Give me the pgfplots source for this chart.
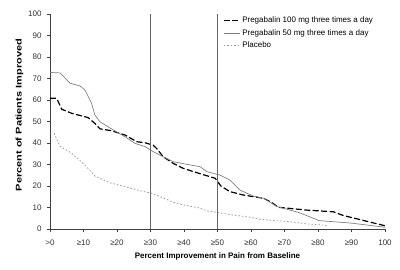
\documentclass[border=0pt]{standalone}
\usepackage{graphicx}
\usepackage{pgfplots}
\pgfplotsset{compat=1.18}
\usepackage{fontspec}
\setmainfont{Liberation Sans}
\begin{document}
\begin{tikzpicture}
\begin{axis}[
  at={(0pt,0pt)}, anchor=origin,
  scale only axis, width=335pt, height=215pt,
  xmin=0, xmax=100, ymin=0, ymax=100,
  axis x line*=bottom, axis y line*=left,
  axis line style={line width=0.8pt, black!75},
  tick align=outside, major tick length=3pt,
  tick style={line width=0.6pt, black!75},
  xtick={0,10,...,100}, ytick={0,10,...,100},
  xticklabels={>0,≥10,≥20,≥30,≥40,≥50,≥60,≥70,≥80,≥90,100},
  /pgf/number format/assume math mode=true,
  ticklabel style={font=\fontsize{8}{9}\selectfont, black!80},
  xticklabel style={yshift=-4pt},
  yticklabel style={xshift=-2pt},
  xlabel={\textbf{Percent Improvement in Pain from Baseline}},
  ylabel={\scalebox{1.0}[0.75]{\fontsize{11}{11}\selectfont\bfseries Percent of Patients Improved}},
  label style={font=\fontsize{8}{9}\selectfont},
  xlabel style={yshift=-1pt},
  ylabel style={at={(ticklabel cs:0.53)}, yshift=-2pt},
  legend style={at={(0.513,1)}, anchor=north west, draw=none, fill=none,
    font=\fontsize{8}{9}\selectfont, row sep=1pt, inner sep=1pt},
  legend cell align=left,
  legend image code/.code={\draw[#1] (0pt,0pt) -- (16pt,0pt);},
  clip=false,
]
\addplot[black, line width=1.2pt, dash pattern=on 6pt off 2.5pt] coordinates {
(0,60.8) (2,60.8) (3.5,55.7) (6.5,53.8) (11.4,51.8) (13.4,49.1) (14.9,46.6)
(18.4,45.7) (22.4,43.7) (25.9,40.6) (28.4,40.1) (30.8,39) (31.8,37.5) (33.8,33.6)
(36.8,30.5) (39.8,28.2) (43.8,26.2) (49.3,23.6) (51,20) (53.7,17.4) (57.7,15.8)
(63.7,14.3) (66,12.5) (68.2,10.1) (76.6,8.8) (84.6,8) (87.5,6.3) (93.5,4) (100,1.5)
};
\addlegendentry{Pregabalin 100 mg three times a day}
\addplot[black!50, line width=0.7pt] coordinates {
(0,72.8) (3,72.6) (6,67.8) (9,66.5) (10.4,64.7) (12.4,58.5) (13.4,53) (14.9,49.9)
(17.9,47) (22.4,42.9) (25.4,39.8) (28.4,38.3) (30.8,36) (33.8,33.6) (36.8,31.3)
(41.8,29.8) (44.8,29) (46.8,26.7) (50.7,25.1) (53.7,22.8) (56.7,18.1) (57.7,17.4)
(60.7,15.3) (63.7,14.3) (67.7,10.5) (74.6,7.5) (78.6,5) (80.3,3.9) (89.6,2.8)
(98.5,1.1) (100,0.8)
};
\addlegendentry{Pregabalin 50 mg three times a day}
\addplot[black!40, line width=0.8pt, dash pattern=on 1.5pt off 2pt] coordinates {
(1.2,44.5) (3,38.5) (6.5,35.2) (10.4,29.8) (13.5,24.5) (17.9,21.5) (22.4,19.7)
(26.4,18) (30.4,16.6) (36.8,12.5) (39.8,11.2) (44.8,9.7) (46.8,8.5) (54.6,6.5)
(59.7,5.5) (62.7,4.5) (71.6,3.4) (76.6,2.4) (82,1.8) (83,1)
};
\addlegendentry{Placebo}
\addplot[black!60, line width=1.2pt, forget plot] coordinates {(30,0) (30,100)};
\addplot[black!60, line width=1.2pt, forget plot] coordinates {(50,0) (50,100)};
\end{axis}
\pgfresetboundingbox
\path (-50pt,-40pt) rectangle (350pt,229pt);
\end{tikzpicture}
\end{document}
